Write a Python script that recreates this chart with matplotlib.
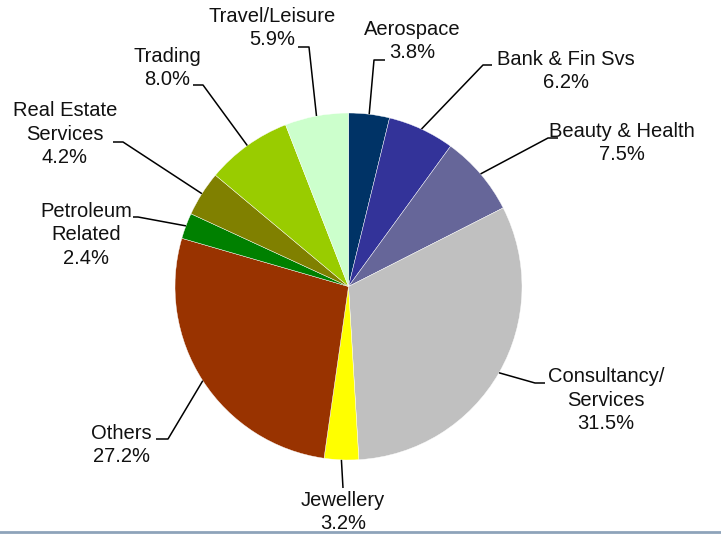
import numpy as np
import matplotlib.pyplot as plt

# sector share of the portfolio, clockwise from 12 o'clock
sectors = ['Aerospace', 'Bank & Fin Svs', 'Beauty & Health', 'Consultancy/\nServices',
           'Jewellery', 'Others', 'Petroleum\nRelated', 'Real Estate\nServices',
           'Trading', 'Travel/Leisure']
shares = [3.8, 6.2, 7.5, 31.5, 3.2, 27.2, 2.4, 4.2, 8.0, 5.9]
colors = ['#003366', '#333399', '#666699', '#C0C0C0', '#FFFF00',
          '#993300', '#008000', '#808000', '#99CC00', '#CCFFCC']

W, H = 721, 535
cx, cy, r = 348.5, 286.5, 173.5

# label block centre and leader elbow / end (pixels from top-left)
label_pos = [(412, 41), (566, 71), (622, 143), (606, 400), (343, 512),
             (121, 445), (86, 235), (65, 134), (167, 68), (272, 28)]
elbows = [((374, 60), (385, 60)), ((483, 65), (492, 65)), ((548, 138), (558, 138)),
          ((535, 383), (545, 383)), ((343, 488), (343, 488)), ((168, 439), (156, 439)),
          ((138, 217), (133, 217)), ((123, 142), (113, 142)), ((203, 85), (193, 85)),
          ((309, 47), (298, 47))]

plt.rcParams['font.family'] = ['Liberation Sans', 'DejaVu Sans']

fig = plt.figure(figsize=(W / 100, H / 100), dpi=100)
ax = fig.add_axes([0, 0, 1, 1])


def flip(p):
    return p[0], H - p[1]


ax.pie(shares, colors=colors, startangle=90, counterclock=False,
       center=(cx, H - cy), radius=r,
       wedgeprops=dict(edgecolor='white', linewidth=0.3))
ax.set_xlim(0, W)
ax.set_ylim(0, H)
ax.set_aspect('equal')
ax.axis('off')

total = sum(shares)
start = 0.0
for name, val, (lx, ly), (e1, e2) in zip(sectors, shares, label_pos, elbows):
    mid = (start + val / 2) / total * 2 * np.pi
    start += val
    ax_x = cx + r * np.sin(mid)
    ax_y = cy - r * np.cos(mid)
    pts = [flip((ax_x, ax_y)), flip(e1), flip(e2)]
    ax.plot([p[0] for p in pts], [p[1] for p in pts], color='black', lw=1.1,
            solid_capstyle='butt')
    ax.text(lx, H - ly, f'{name}\n{val:.1f}%', ha='center', va='center',
            multialignment='center', fontsize=14.5, linespacing=1.3, color='#111111')

ax.axhline(H - 531.5, color='#8EA3BA', lw=2, zorder=10)

fig.savefig('out.png', dpi=100)
